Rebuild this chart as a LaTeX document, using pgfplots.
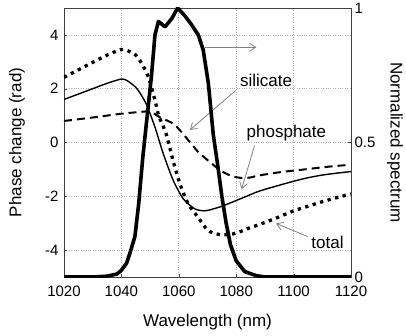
\documentclass[border=0pt]{standalone}
\usepackage{pgfplots}
\pgfplotsset{compat=1.18}
\usepackage{fontspec}
\setmainfont{Liberation Sans}
\usetikzlibrary{arrows.meta}
\definecolor{annot}{RGB}{128,128,128}
\begin{document}
\begin{tikzpicture}[font=\fontsize{17}{20}\selectfont]
\begin{axis}[
  width=287pt, height=269pt, scale only axis,
  xmin=1020, xmax=1120, ymin=-5, ymax=5,
  xtick={1020,1040,1060,1080,1100,1120},
  ytick={-4,-2,0,2,4},
  ytick pos=left, xtick pos=bottom,
  tick align=inside, major tick length=3pt,
  grid=major,
  grid style={dotted, gray!60, line width=0.7pt},
  axis line style={black!75, line width=0.7pt},
  tick style={black!75},
  /pgf/number format/assume math mode=true,
  /pgf/number format/1000 sep={},
  ticklabel style={font=\fontsize{15}{18}\selectfont},
  xticklabel style={yshift=-5pt},
  yticklabel style={xshift=-2pt},
  xlabel={Wavelength (nm)},
  ylabel={Phase change (rad)},
  xlabel style={at={(axis description cs:0.5,-0.167)}, anchor=center},
  ylabel style={at={(axis description cs:-0.164,0.5)}, anchor=center},
]
% total
\addplot[black, line width=3.3pt, dash pattern=on 3.3pt off 4.5pt, smooth, tension=0.4] coordinates {
(1020,2.42) (1025,2.7) (1030,2.98) (1035,3.25) (1040,3.46) (1042,3.42) (1045,3.25)
(1047,2.95) (1049.4,2.44) (1051.7,1.57) (1053,1.0) (1055.5,0.35) (1058,-0.67)
(1060.4,-1.54) (1063.3,-2.29) (1066.8,-2.79) (1069.7,-3.22) (1072,-3.37) (1075,-3.43)
(1078,-3.42) (1081,-3.33) (1084,-3.2) (1088,-3.05) (1093,-2.85) (1100,-2.54)
(1105,-2.37) (1110,-2.2) (1115,-2.05) (1120,-1.91)};
% silicate
\addplot[black, line width=1.4pt, smooth, tension=0.4] coordinates {
(1020,1.6) (1025,1.8) (1030,2.0) (1035,2.2) (1040,2.36) (1042,2.3) (1045,2.05)
(1047,1.75) (1049,1.35) (1051.7,0.57) (1054.6,-0.42) (1058.1,-1.42) (1061.6,-2.1)
(1065.6,-2.47) (1069,-2.54) (1072,-2.47) (1075.5,-2.35) (1081.3,-2.1) (1087.7,-1.82)
(1093,-1.65) (1100,-1.44) (1105,-1.31) (1110,-1.21) (1115,-1.14) (1120,-1.08)};
% phosphate
\addplot[black, line width=2pt, dash pattern=on 8pt off 5pt, smooth, tension=0.4] coordinates {
(1020,0.8) (1030,0.93) (1040,1.07) (1046,1.13) (1050,1.15) (1053.4,0.94) (1058.1,0.70)
(1061,0.38) (1063.9,0.01) (1067,-0.38) (1070.9,-0.73) (1074,-1.0) (1076.7,-1.17)
(1080,-1.29) (1082.5,-1.32) (1085,-1.3) (1087.7,-1.23) (1092.9,-1.14) (1097,-1.08)
(1102.2,-1.02) (1110.3,-0.92) (1115,-0.87) (1119.7,-0.83)};
% annotations
\draw[annot, line width=0.8pt, -{Straight Barb[length=6pt,width=8pt]}] (axis cs:1069.3,3.54) -- (axis cs:1087,3.54);
\draw[annot, line width=0.8pt, -{Straight Barb[length=6pt,width=8pt]}] (axis cs:1079.9,1.94) -- (axis cs:1063.9,0.47);
\draw[annot, line width=0.8pt, -{Straight Barb[length=6pt,width=8pt]}] (axis cs:1086.4,-0.11) -- (axis cs:1081.9,-1.73);
\draw[annot, line width=0.8pt, -{Straight Barb[length=6pt,width=8pt]}] (axis cs:1105,-3.5) -- (axis cs:1093.9,-3.01);
\node[inner sep=1pt] at (axis cs:1090.4,2.31) {silicate};
\node[inner sep=1pt] at (axis cs:1097.5,0.34) {phosphate};
\node[inner sep=1pt] at (axis cs:1111.8,-3.7) {total};
\end{axis}
\begin{axis}[
  width=287pt, height=269pt, scale only axis,
  xmin=1020, xmax=1120, ymin=0, ymax=1,
  axis x line=none, axis y line*=right,
  ytick={0,0.5,1}, yticklabels={0,0.5,1},
  tick align=inside, major tick length=3pt,
  axis line style={black!75, line width=0.7pt},
  tick style={black!75},
  /pgf/number format/assume math mode=true,
  ticklabel style={font=\fontsize{15}{18}\selectfont},
  ylabel={Normalized spectrum},
  ylabel style={at={(axis description cs:1.153,0.5)}, anchor=center, rotate=180},
]
\addplot[black, line width=3.6pt, line join=round] coordinates {
(1020,0) (1030,0) (1035,0.003) (1038.4,0.011) (1040,0.025) (1041.8,0.051) (1043,0.09)
(1044.7,0.15) (1046,0.27) (1047.5,0.45) (1049,0.6) (1050.5,0.75) (1051.7,0.9)
(1052.9,0.95) (1055.2,0.93) (1057.5,0.96) (1059.6,1.0) (1062.2,0.97) (1064.5,0.937)
(1066.8,0.9) (1068.5,0.844) (1070.3,0.72) (1072,0.53) (1073.5,0.42) (1075,0.3)
(1076.5,0.2) (1078,0.12) (1080,0.06) (1083,0.02) (1087,0.005) (1090,0) (1120,0)};
\end{axis}
\pgfresetboundingbox
\path[use as bounding box] (-64pt,-58pt) rectangle (342pt,277pt);
\end{tikzpicture}
\end{document}
